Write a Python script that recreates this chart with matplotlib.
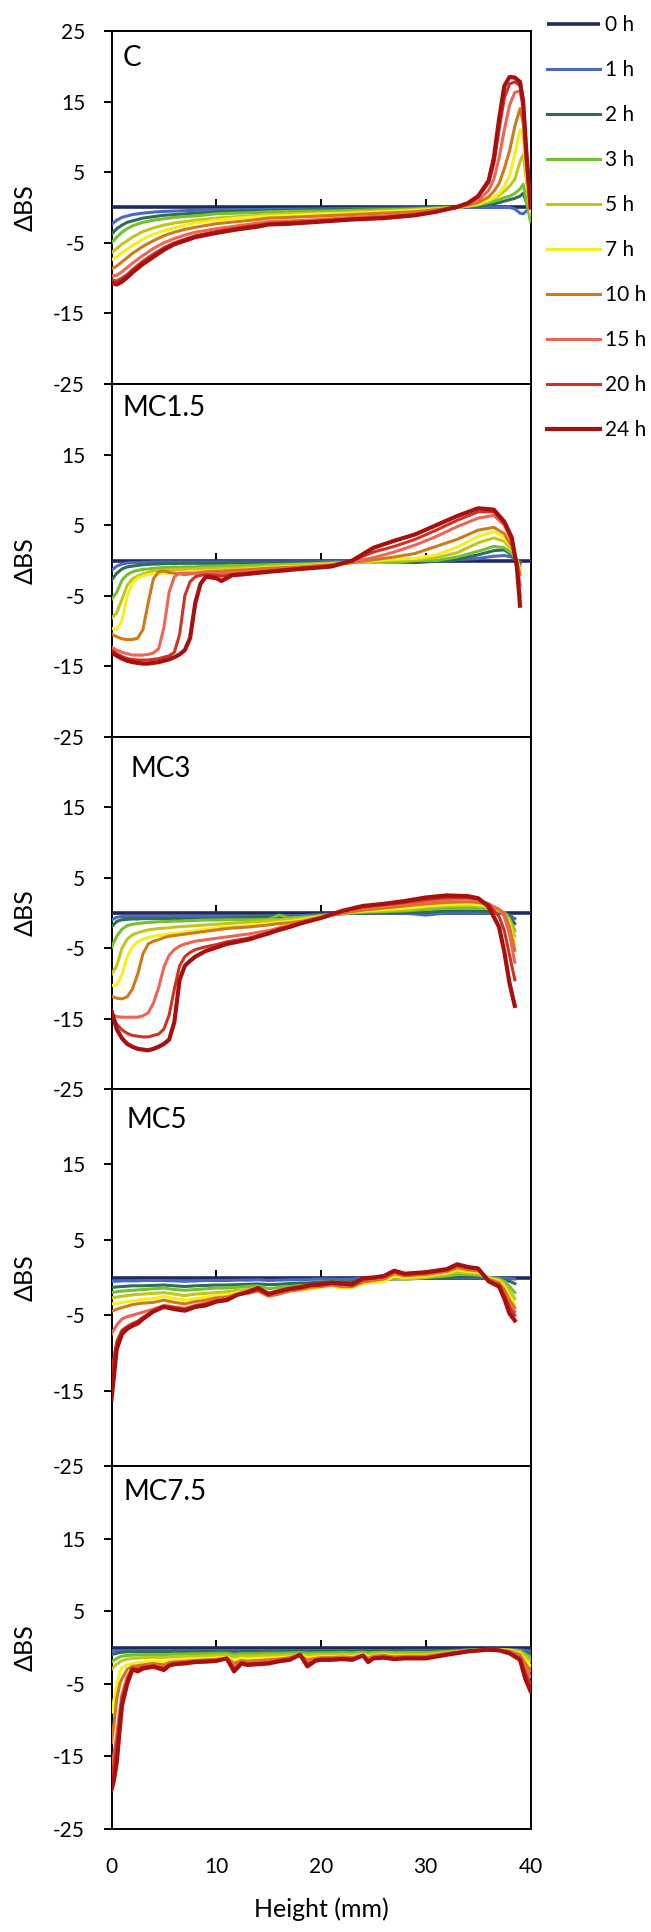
import matplotlib
matplotlib.use('Agg')
import matplotlib.pyplot as plt

plt.rcParams['font.family'] = ['Lato', 'DejaVu Sans']
plt.rcParams['axes.unicode_minus'] = False

# ---- data ----
hours = ['0 h', '1 h', '2 h', '3 h', '5 h', '7 h', '10 h', '15 h', '20 h', '24 h']
colors = ['#1f2a5c', '#4a68c4', '#2e6e55', '#74c02e', '#c4c41c', '#f5ef1e',
          '#cf7a1a', '#ee6455', '#cc3322', '#a81010']
panel_names = ['C', 'MC1.5', 'MC3', 'MC5', 'MC7.5']

zero_x = [0, 40]
zero_y = [0, 0]

# panel C
c_x = [0, 0.5, 1, 1.5, 2, 3, 4, 5, 6, 7, 8, 10, 12, 14, 15, 17, 20, 23, 26, 29, 31,
       33, 34, 35, 36, 36.5, 37, 37.5, 38, 38.5, 39, 39.3, 39.6, 40]
c_1h = [-2.4, -1.8, -1.4, -1.2, -1.0, -0.8, -0.65, -0.55, -0.5, -0.45, -0.4, -0.35, -0.3, -0.3, -0.25, -0.25,
        -0.2, -0.15, -0.1, -0.05, 0.0, 0.0, 0.0, 0.0, 0.0, 0.0, 0.0, 0.0, 0.0, -0.2, -0.8, -0.9, -0.5, 0.0]
c_2h = [-3.8, -3.0, -2.5, -2.1, -1.9, -1.5, -1.3, -1.1, -1.0, -0.9, -0.8, -0.65, -0.55, -0.5, -0.45, -0.4,
        -0.35, -0.3, -0.2, -0.1, 0.0, 0.05, 0.1, 0.2, 0.4, 0.5, 0.7, 0.9, 1.1, 1.3, 1.6, 2.0, 0.8, -1.2]
c_3h = [-5.0, -4.2, -3.5, -3.0, -2.6, -2.1, -1.8, -1.6, -1.4, -1.3, -1.2, -0.9, -0.8, -0.7, -0.6, -0.55,
        -0.5, -0.4, -0.3, -0.2, -0.1, 0.0, 0.15, 0.35, 0.7, 0.9, 1.1, 1.4, 1.6, 2.0, 2.6, 3.3, 1.0, -2.0]
c_5h = [-6.4, -5.8, -5.2, -4.7, -4.2, -3.4, -2.9, -2.5, -2.2, -2.0, -1.8, -1.5, -1.3, -1.1, -1.0, -0.9,
        -0.8, -0.6, -0.5, -0.3, -0.1, 0.0, 0.2, 0.5, 1.0, 1.3, 1.7, 2.3, 3.0, 4.0, 6.5, 7.5, 4.0, -1.0]
c_7h = [-7.4, -7.0, -6.4, -5.9, -5.4, -4.5, -3.8, -3.3, -2.9, -2.5, -2.2, -1.8, -1.5, -1.3, -1.2, -1.1,
        -0.9, -0.8, -0.6, -0.4, -0.2, 0.0, 0.2, 0.5, 1.0, 1.4, 2.0, 3.0, 4.5, 7.5, 11.0, 10.0, 5.0, -0.5]
c_10h = [-8.7, -8.3, -7.7, -7.1, -6.5, -5.5, -4.7, -4.0, -3.5, -3.1, -2.8, -2.3, -2.0, -1.7, -1.5, -1.4,
         -1.2, -1.0, -0.8, -0.6, -0.3, 0.0, 0.3, 0.7, 1.5, 2.3, 3.4, 5.5, 8.0, 11.5, 14.0, 12.0, 6.0, 0.0]
c_15h = [-9.7, -9.6, -9.1, -8.5, -7.9, -6.8, -5.8, -5.0, -4.4, -3.9, -3.5, -3.0, -2.6, -2.2, -2.0, -1.9,
         -1.7, -1.4, -1.2, -0.9, -0.5, 0.0, 0.4, 1.0, 2.4, 4.0, 7.0, 11.0, 14.5, 16.3, 16.5, 14.0, 7.0, 0.2]
c_20h = [-10.3, -10.4, -10.0, -9.5, -8.8, -7.6, -6.6, -5.7, -5.0, -4.5, -4.0, -3.4, -2.9, -2.5, -2.3, -2.1,
         -1.9, -1.6, -1.4, -1.0, -0.6, 0.0, 0.6, 1.5, 3.5, 6.2, 11.0, 15.5, 17.5, 17.8, 17.3, 14.5, 7.5, 0.3]
c_24h = [-10.7, -10.9, -10.5, -9.9, -9.2, -8.0, -7.0, -6.0, -5.2, -4.7, -4.2, -3.6, -3.1, -2.7, -2.4, -2.3,
         -2.0, -1.7, -1.5, -1.1, -0.6, 0.1, 0.6, 1.6, 3.8, 7.0, 12.5, 17.2, 18.5, 18.4, 17.8, 15.0, 8.0, 0.0]

# panel MC1.5
m15_x = [0, 0.5, 1, 1.5, 2, 2.5, 3, 3.5, 4, 4.5, 5, 5.5, 6, 6.5, 7, 7.5, 8, 8.5, 9,
         10, 10.5, 11.5, 13, 15, 18, 21, 23, 25, 27, 29, 31, 33, 35, 36.5, 37.5, 38.2, 38.7, 39]
m15_1h = [-1.4, -0.8, -0.5, -0.35, -0.3, -0.3, -0.25, -0.25, -0.2, -0.2, -0.2, -0.2, -0.2, -0.2, -0.2, -0.2, -0.2, -0.2, -0.2,
          -0.2, -0.2, -0.2, -0.2, -0.2, -0.2, -0.15, -0.1, -0.1, -0.2, -0.2, -0.1, 0.1, 0.3, 0.6, 0.7, 0.5, 0.0, -0.2]
m15_2h = [-2.8, -1.8, -1.2, -0.9, -0.8, -0.7, -0.6, -0.55, -0.5, -0.5, -0.45, -0.45, -0.45, -0.4, -0.4, -0.4, -0.4, -0.4, -0.4,
          -0.4, -0.4, -0.35, -0.35, -0.3, -0.3, -0.3, -0.2, -0.2, -0.2, -0.3, -0.1, 0.2, 0.8, 1.4, 1.5, 0.8, 0.0, -0.5]
m15_3h = [-5.5, -4.5, -2.8, -2.0, -1.6, -1.4, -1.25, -1.2, -1.1, -1.05, -1.0, -1.0, -0.95, -0.95, -0.9, -0.9, -0.9, -0.85, -0.85,
          -0.8, -0.8, -0.75, -0.7, -0.6, -0.5, -0.35, -0.2, -0.1, -0.3, 0.0, 0.0, 0.5, 1.3, 2.0, 1.8, 1.0, 0.0, -0.8]
m15_5h = [-8.2, -7.4, -5.5, -3.5, -2.6, -2.2, -1.9, -1.7, -1.5, -1.4, -1.35, -1.3, -1.3, -1.25, -1.25, -1.2, -1.2, -1.15, -1.15,
          -1.1, -1.1, -1.05, -1.0, -0.8, -0.6, -0.4, -0.3, -0.1, 0.0, 0.1, 0.4, 1.1, 2.5, 3.2, 2.7, 1.5, 0.0, -1.2]
m15_7h = [-9.6, -9.8, -8.5, -5.0, -3.2, -2.5, -2.2, -2.0, -1.9, -1.8, -1.8, -1.75, -1.7, -1.7, -1.65, -1.6, -1.6, -1.55, -1.5,
          -1.4, -1.4, -1.35, -1.2, -1.0, -0.8, -0.5, -0.3, 0.0, 0.2, 0.3, 0.8, 1.9, 3.4, 4.1, 3.3, 1.8, 0.0, -1.5]
m15_10h = [-10.4, -10.8, -11.1, -11.2, -11.2, -11.0, -9.8, -6.0, -2.6, -1.6, -1.5, -1.7, -1.8, -1.9, -2.0, -1.9, -1.8, -1.7, -1.6,
           -1.5, -1.5, -1.4, -1.3, -1.1, -0.9, -0.6, -0.3, 0.1, 0.5, 1.0, 2.0, 3.0, 4.3, 4.7, 3.8, 2.0, -0.2, -2.0]
m15_15h = [-12.3, -12.7, -13.0, -13.2, -13.4, -13.4, -13.4, -13.3, -13.1, -12.5, -9.5, -4.5, -2.3, -1.8, -1.8, -1.8, -1.8, -1.8, -1.8,
           -1.8, -1.8, -1.7, -1.6, -1.4, -1.0, -0.7, -0.2, 0.4, 1.2, 2.2, 3.4, 4.8, 6.0, 6.4, 5.0, 2.8, -0.3, -3.5]
m15_20h = [-12.7, -13.2, -13.6, -13.9, -14.0, -14.1, -14.1, -14.1, -14.0, -13.9, -13.7, -13.5, -13.0, -10.5, -5.0, -3.0, -2.3, -2.1, -2.0,
           -2.1, -2.2, -2.0, -1.8, -1.5, -1.1, -0.7, 0.0, 1.2, 2.0, 3.0, 4.3, 5.7, 6.9, 6.9, 5.3, 3.0, -0.5, -5.0]
m15_24h = [-13.0, -13.5, -13.9, -14.2, -14.4, -14.5, -14.6, -14.6, -14.5, -14.4, -14.2, -14.0, -13.7, -13.3, -12.7, -11.0, -6.0, -3.3, -2.3,
           -2.5, -2.9, -2.1, -1.9, -1.6, -1.2, -0.85, 0.0, 1.8, 2.8, 3.7, 5.0, 6.3, 7.4, 7.2, 5.5, 3.3, -0.9, -6.4]

# panel MC3
m3_x = [0, 0.5, 1, 1.5, 2, 2.5, 3, 3.5, 4, 4.5, 5, 5.5, 6, 6.5, 7, 7.5, 8, 9, 10, 11, 13, 15,
        16, 17, 18, 20, 22, 24, 26, 28, 30, 32, 34, 35, 36, 37, 37.5, 38, 38.5]
m3_1h = [-1.0, -0.6, -0.5, -0.5, -0.5, -0.5, -0.5, -0.5, -0.5, -0.5, -0.5, -0.5, -0.5, -0.5, -0.5, -0.5, -0.5,
         -0.5, -0.5, -0.5, -0.5, -0.5, -0.45, -0.45, -0.4, -0.2, -0.1, 0.0, 0.0, 0.0, -0.3, 0.0,
         0.0, 0.0, 0.0, 0.0, 0.0, -0.3, -0.8]
m3_2h = [-2.0, -1.2, -0.95, -0.9, -0.85, -0.85, -0.8, -0.8, -0.8, -0.8, -0.8, -0.8, -0.8, -0.8, -0.8, -0.8, -0.8,
         -0.8, -0.8, -0.75, -0.7, -0.6, -0.6, -0.6, -0.6, -0.3, -0.1, 0.0, 0.1, 0.1, 0.1, 0.3,
         0.3, 0.3, 0.2, 0.1, 0.0, -0.5, -1.5]
m3_3h = [-4.9, -3.3, -2.3, -1.8, -1.6, -1.5, -1.4, -1.35, -1.3, -1.25, -1.2, -1.2, -1.15, -1.15, -1.1, -1.1, -1.05,
         -1.0, -1.0, -0.95, -0.95, -0.9, -0.3, -0.7, -0.6, -0.4, -0.1, 0.1, 0.2, 0.3, 0.5, 0.7,
         0.7, 0.7, 0.6, 0.2, 0.0, -0.8, -2.5]
m3_5h = [-8.7, -7.5, -5.0, -3.7, -3.1, -2.8, -2.6, -2.4, -2.3, -2.2, -2.15, -2.1, -2.0, -1.95, -1.9, -1.85, -1.8,
         -1.7, -1.6, -1.5, -1.3, -1.1, -1.0, -0.9, -0.8, -0.4, 0.0, 0.2, 0.3, 0.5, 0.8, 1.0,
         1.1, 1.0, 0.8, 0.3, 0.0, -1.0, -3.3]
m3_7h = [-10.3, -10.2, -8.8, -6.2, -4.8, -4.1, -3.7, -3.5, -3.3, -3.2, -3.1, -3.0, -2.9, -2.8, -2.7, -2.6, -2.5,
         -2.3, -2.1, -2.0, -1.8, -1.5, -1.3, -1.2, -1.0, -0.5, 0.0, 0.3, 0.5, 0.7, 1.0, 1.2,
         1.3, 1.2, 1.0, 0.4, 0.0, -1.5, -4.5]
m3_10h = [-11.8, -12.1, -12.2, -11.9, -10.8, -8.7, -5.8, -4.4, -4.0, -3.8, -3.5, -3.3, -3.2, -3.1, -3.0, -2.9, -2.8,
          -2.6, -2.4, -2.2, -2.0, -1.7, -1.5, -1.4, -1.2, -0.6, 0.0, 0.4, 0.7, 1.0, 1.3, 1.5,
          1.6, 1.5, 1.2, 0.5, 0.0, -2.0, -5.3]
m3_15h = [-14.4, -14.7, -14.8, -14.8, -14.8, -14.8, -14.6, -14.2, -12.8, -10.6, -7.7, -6.0, -5.2, -4.7, -4.4, -4.2, -4.0,
          -3.8, -3.6, -3.4, -3.0, -2.5, -2.1, -1.8, -1.4, -0.7, 0.0, 0.7, 1.0, 1.3, 1.6, 1.9,
          2.0, 1.8, 1.3, 0.5, -0.5, -3.0, -7.0]
m3_20h = [-14.4, -15.8, -16.6, -17.1, -17.4, -17.5, -17.6, -17.6, -17.4, -17.2, -16.5, -14.5, -10.8, -7.5, -6.2, -5.6, -5.2,
          -4.8, -4.5, -4.1, -3.6, -2.8, -2.3, -1.9, -1.5, -0.7, 0.2, 0.9, 1.2, 1.5, 1.9, 2.2,
          2.2, 2.0, 1.2, -0.5, -2.5, -6.0, -9.5]
m3_24h = [-13.9, -16.5, -17.8, -18.6, -19.0, -19.3, -19.4, -19.5, -19.3, -19.0, -18.6, -18.0, -15.5, -9.5, -7.5, -6.8, -6.2,
          -5.4, -4.9, -4.4, -3.8, -2.9, -2.4, -2.0, -1.5, -0.7, 0.3, 1.0, 1.3, 1.7, 2.2, 2.5,
          2.4, 2.1, 0.9, -2.0, -5.5, -10.0, -13.2]

# panel MC5
m5_x = [0, 0.2, 0.5, 1, 1.5, 2, 2.5, 3, 4, 5, 6, 7, 8, 9, 10, 11, 12, 13, 14, 15,
        16, 17, 18, 19, 20, 21, 22, 23, 24, 25, 26, 27, 28, 29, 30, 31, 32, 33, 34, 35,
        36, 37, 37.5, 38, 38.5]
m5_1h = [-0.5, -0.5, -0.5, -0.45, -0.45, -0.45, -0.45, -0.4, -0.4, -0.4,
         -0.45, -0.5, -0.45, -0.4, -0.4, -0.4, -0.35, -0.35, -0.3, -0.4,
         -0.35, -0.3, -0.3, -0.25, -0.2, -0.2, -0.25, -0.2, -0.1, -0.1,
         -0.05, 0.0, 0.0, 0.0, 0.0, 0.0, 0.0, 0.0, 0.0, 0.0, 0.0, -0.05, -0.1, -0.15, -0.2]
m5_2h = [-1.3, -1.3, -1.25, -1.2, -1.15, -1.1, -1.1, -1.1, -1.05, -1.0,
         -1.1, -1.2, -1.1, -1.05, -1.0, -1.0, -0.95, -0.9, -0.85, -0.95,
         -0.9, -0.8, -0.75, -0.7, -0.6, -0.55, -0.6, -0.55, -0.4, -0.35,
         -0.3, -0.2, -0.2, -0.15, -0.1, 0.0, 0.0, 0.1, 0.1, 0.1, 0.0, -0.2, -0.3, -0.5, -0.8]
m5_3h = [-2.0, -1.95, -1.9, -1.8, -1.75, -1.7, -1.65, -1.6, -1.5, -1.4,
         -1.6, -1.7, -1.6, -1.5, -1.4, -1.4, -1.3, -1.2, -1.1, -1.5,
         -1.3, -1.2, -1.1, -1.0, -0.9, -0.8, -1.0, -0.9, -0.6, -0.5,
         -0.4, -0.1, -0.2, -0.1, 0.0, 0.1, 0.2, 0.4, 0.4, 0.3, 0.0, -0.2, -0.5, -1.2, -2.0]
m5_5h = [-2.7, -2.65, -2.6, -2.5, -2.4, -2.3, -2.25, -2.2, -2.1, -2.0,
         -2.2, -2.4, -2.2, -2.1, -2.0, -1.9, -1.7, -1.6, -1.5, -2.0,
         -1.8, -1.6, -1.5, -1.3, -1.2, -1.0, -1.2, -1.1, -0.8, -0.6,
         -0.5, 0.0, -0.2, -0.1, 0.0, 0.2, 0.4, 0.7, 0.6, 0.5, 0.0, -0.3, -0.8, -1.8, -2.8]
m5_7h = [-3.5, -3.45, -3.4, -3.3, -3.2, -3.1, -3.0, -2.9, -2.8, -2.5,
         -2.8, -3.0, -2.8, -2.6, -2.4, -2.3, -2.0, -1.9, -1.7, -2.3,
         -2.1, -1.8, -1.7, -1.5, -1.3, -1.1, -1.4, -1.3, -0.8, -0.6,
         -0.5, 0.2, 0.0, 0.1, 0.2, 0.4, 0.6, 1.0, 0.8, 0.7, -0.1, -0.5, -1.2, -2.5, -3.5]
m5_10h = [-4.5, -4.4, -4.2, -4.0, -3.8, -3.6, -3.5, -3.4, -3.3, -3.0,
          -3.3, -3.5, -3.2, -3.0, -2.7, -2.6, -2.2, -2.1, -1.8, -2.5,
          -2.2, -1.8, -1.6, -1.3, -1.2, -1.0, -1.2, -1.2, -0.6, -0.4,
          -0.2, 0.5, 0.2, 0.3, 0.4, 0.6, 0.8, 1.3, 1.0, 0.9, -0.2, -0.7, -1.6, -3.0, -4.0]
m5_15h = [-7.5, -7.0, -6.3, -5.5, -5.2, -5.0, -4.8, -4.6, -4.2, -3.7,
          -3.9, -4.1, -3.7, -3.4, -3.0, -2.8, -2.3, -2.1, -1.7, -2.4,
          -2.0, -1.7, -1.5, -1.2, -1.1, -0.9, -1.0, -1.1, -0.4, -0.2,
          0.0, 0.7, 0.3, 0.4, 0.5, 0.7, 0.9, 1.5, 1.2, 1.0, -0.3, -0.9, -2.0, -3.5, -4.5]
m5_20h = [-13.0, -11.0, -8.5, -7.0, -6.5, -6.1, -5.8, -5.3, -4.4, -3.8,
          -4.0, -4.2, -3.8, -3.5, -3.1, -2.9, -2.3, -2.0, -1.6, -2.3,
          -1.9, -1.6, -1.4, -1.1, -1.0, -0.8, -0.9, -1.0, -0.3, -0.1,
          0.1, 0.8, 0.4, 0.5, 0.6, 0.8, 1.0, 1.6, 1.3, 1.1, -0.4, -1.0, -2.3, -4.0, -5.0]
m5_24h = [-16.2, -13.5, -9.5, -7.5, -6.8, -6.4, -6.1, -5.5, -4.5, -3.9,
          -4.2, -4.4, -3.9, -3.7, -3.2, -3.0, -2.3, -1.9, -1.4, -2.2,
          -1.8, -1.5, -1.3, -1.0, -0.9, -0.7, -0.8, -0.9, -0.1, 0.0,
          0.2, 0.9, 0.5, 0.6, 0.7, 0.9, 1.1, 1.75, 1.4, 1.2, -0.5, -1.2, -2.8, -4.8, -5.7]

# panel MC7.5
m75_x = [0, 0.2, 0.5, 0.8, 1, 1.5, 2, 2.5, 3, 4, 5, 5.5, 6, 7, 8, 9, 10, 11, 11.7, 12.4,
         13, 14, 15, 16, 17, 18, 18.7, 19.5, 20, 21, 22, 23, 24, 24.5, 25, 26, 27, 28, 30, 32,
         34, 36, 37, 38, 39, 39.5, 40]
m75_1h = [-0.5, -0.45, -0.45, -0.45, -0.45, -0.45, -0.45, -0.45, -0.45, -0.45,
          -0.45, -0.45, -0.45, -0.45, -0.45, -0.45, -0.45, -0.45, -0.45, -0.45,
          -0.45, -0.45, -0.45, -0.45, -0.45, -0.45, -0.45, -0.45, -0.45, -0.45,
          -0.45, -0.45, -0.45, -0.45, -0.45, -0.45, -0.45, -0.4, -0.4, -0.4,
          -0.35, -0.3, -0.3, -0.3, -0.35, -0.4, -0.5]
m75_2h = [-1.0, -0.9, -0.8, -0.7, -0.65, -0.6, -0.6, -0.6, -0.6, -0.6,
          -0.6, -0.6, -0.6, -0.6, -0.6, -0.6, -0.6, -0.6, -0.65, -0.6,
          -0.6, -0.6, -0.6, -0.6, -0.55, -0.55, -0.6, -0.55, -0.55, -0.55,
          -0.55, -0.55, -0.5, -0.55, -0.5, -0.5, -0.5, -0.5, -0.5, -0.45,
          -0.4, -0.35, -0.35, -0.4, -0.5, -0.7, -0.9]
m75_3h = [-2.0, -1.8, -1.5, -1.3, -1.2, -1.1, -1.05, -1.0, -1.0, -0.95,
          -1.0, -0.95, -0.9, -0.9, -0.85, -0.85, -0.8, -0.8, -0.95, -0.85,
          -0.85, -0.85, -0.8, -0.8, -0.75, -0.7, -0.8, -0.75, -0.75, -0.75,
          -0.7, -0.75, -0.65, -0.75, -0.7, -0.65, -0.7, -0.7, -0.7, -0.55,
          -0.35, -0.25, -0.25, -0.3, -0.45, -0.9, -1.3]
m75_5h = [-3.0, -2.7, -2.3, -2.0, -1.8, -1.6, -1.5, -1.45, -1.4, -1.35,
          -1.4, -1.3, -1.25, -1.2, -1.2, -1.15, -1.1, -1.05, -1.3, -1.15,
          -1.2, -1.15, -1.1, -1.1, -1.0, -0.95, -1.1, -1.0, -1.0, -1.0,
          -0.95, -1.0, -0.85, -1.0, -0.9, -0.85, -0.9, -0.9, -0.9, -0.7,
          -0.45, -0.3, -0.3, -0.35, -0.6, -1.2, -1.8]
m75_7h = [-8.9, -7.5, -5.2, -3.3, -2.8, -2.4, -2.2, -2.1, -2.0, -1.9,
          -2.0, -1.8, -1.7, -1.6, -1.55, -1.5, -1.45, -1.35, -1.8, -1.5,
          -1.6, -1.5, -1.45, -1.4, -1.3, -1.1, -1.4, -1.3, -1.25, -1.25,
          -1.2, -1.25, -1.0, -1.3, -1.1, -1.0, -1.15, -1.1, -1.1, -0.8,
          -0.5, -0.3, -0.3, -0.4, -0.8, -1.7, -2.5]
m75_10h = [-13.1, -11.0, -7.1, -5.0, -4.3, -3.0, -2.6, -2.5, -2.4, -2.2,
           -2.4, -2.1, -2.0, -1.9, -1.8, -1.7, -1.65, -1.5, -2.2, -1.8,
           -1.9, -1.8, -1.7, -1.6, -1.4, -1.1, -1.7, -1.5, -1.4, -1.4,
           -1.3, -1.4, -1.1, -1.5, -1.2, -1.1, -1.3, -1.2, -1.2, -0.8,
           -0.5, -0.3, -0.35, -0.5, -1.0, -2.2, -3.2]
m75_15h = [-17.0, -15.0, -12.0, -8.5, -6.5, -4.0, -2.8, -2.8, -2.6, -2.4,
           -2.7, -2.3, -2.1, -2.0, -1.85, -1.8, -1.75, -1.5, -2.6, -2.0,
           -2.1, -2.0, -1.9, -1.7, -1.5, -1.1, -2.0, -1.6, -1.5, -1.5,
           -1.4, -1.5, -1.1, -1.7, -1.3, -1.2, -1.4, -1.3, -1.3, -0.9,
           -0.5, -0.3, -0.4, -0.6, -1.2, -2.8, -4.0]
m75_20h = [-18.0, -16.5, -13.5, -9.5, -7.0, -4.5, -2.9, -3.0, -2.7, -2.5,
           -2.9, -2.4, -2.2, -2.1, -1.9, -1.85, -1.8, -1.5, -3.0, -2.1,
           -2.3, -2.2, -2.1, -1.8, -1.6, -1.0, -2.4, -1.7, -1.6, -1.6,
           -1.5, -1.6, -1.1, -1.9, -1.4, -1.3, -1.5, -1.4, -1.4, -0.9,
           -0.5, -0.3, -0.4, -0.7, -1.5, -3.5, -5.0]
m75_24h = [-19.6, -18.5, -15.9, -11.0, -8.0, -5.0, -3.0, -3.3, -2.9, -2.65,
           -3.1, -2.5, -2.3, -2.2, -2.0, -1.95, -1.85, -1.5, -3.3, -2.2,
           -2.4, -2.3, -2.2, -1.9, -1.7, -1.0, -2.6, -1.8, -1.7, -1.7,
           -1.6, -1.7, -1.1, -2.0, -1.5, -1.4, -1.6, -1.5, -1.5, -1.0,
           -0.55, -0.3, -0.4, -0.8, -1.7, -4.3, -6.0]

panel_x = [c_x, m15_x, m3_x, m5_x, m75_x]
panel_curves = [
    [c_1h, c_2h, c_3h, c_5h, c_7h, c_10h, c_15h, c_20h, c_24h],
    [m15_1h, m15_2h, m15_3h, m15_5h, m15_7h, m15_10h, m15_15h, m15_20h, m15_24h],
    [m3_1h, m3_2h, m3_3h, m3_5h, m3_7h, m3_10h, m3_15h, m3_20h, m3_24h],
    [m5_1h, m5_2h, m5_3h, m5_5h, m5_7h, m5_10h, m5_15h, m5_20h, m5_24h],
    [m75_1h, m75_2h, m75_3h, m75_5h, m75_7h, m75_10h, m75_15h, m75_20h, m75_24h],
]

# ---- layout (pixels of the 651 x 1932 canvas) ----
W, H = 651, 1932
left_px, right_px = 111.5, 530.5
panel_px = [(31, 384), (384, 737), (737, 1089), (1089, 1466), (1466, 1829)]
label_off = [(11, -27), (11, -24), (19, -32), (15, -31), (12, -26)]  # px from top-left corner

fig = plt.figure(figsize=(W / 100, H / 100), dpi=100)
lw_frame = 1.4
first_lines = []

for i, (top, bot) in enumerate(panel_px):
    ax = fig.add_axes([left_px / W, 1 - bot / H, (right_px - left_px) / W, (bot - top) / H])
    ax.set_xlim(0, 40)
    ax.set_ylim(-25, 25)

    l0, = ax.plot(zero_x, zero_y, color=colors[0], lw=2.6, zorder=3, solid_capstyle='butt')
    lines = [l0]
    for k, ys in enumerate(panel_curves[i]):
        lw = 3.0 if k == 8 else 2.2
        ln, = ax.plot(panel_x[i], ys, color=colors[k + 1], lw=lw, zorder=3,
                      solid_joinstyle='round')
        lines.append(ln)
    if i == 0:
        first_lines = lines

    for s in ax.spines.values():
        s.set_linewidth(lw_frame)
        s.set_color('black')
    # horizontal axis crosses at 0 with ticks pointing up
    ax.spines['bottom'].set_position(('data', 0))
    ax.set_xticks([10, 20, 30])
    ax.tick_params(axis='x', direction='in', length=6, width=lw_frame, labelbottom=False)

    ax.set_yticks([-25, -15, -5, 5, 15, 25])
    ylabs = ['-25', '-15', '-5', '5', '15', '25'] if i == 0 else ['-25', '-15', '-5', '5', '15', '']
    ax.set_yticklabels(ylabs)
    ax.tick_params(axis='y', direction='out', length=6, width=lw_frame, pad=13, labelsize=15)
    ax.set_ylabel('ΔBS', fontsize=18)
    ax.yaxis.set_label_coords((37 - left_px) / (right_px - left_px), 0.5)

    # bottom frame + value labels
    sec = ax.secondary_xaxis('bottom')
    sec.set_xticks([0, 10, 20, 30, 40])
    sec.spines['bottom'].set_linewidth(lw_frame)
    if i == len(panel_px) - 1:
        sec.tick_params(length=0, pad=20, labelsize=15)
        sec.set_xlabel('Height (mm)', fontsize=18, labelpad=15)
    else:
        sec.tick_params(length=0, labelbottom=False)

    dx, dy = label_off[i]
    ax.annotate(panel_names[i], xy=(0, 1), xycoords='axes fraction',
                xytext=(dx * 0.72, dy * 0.72), textcoords='offset points',
                ha='left', va='center', fontsize=20)

fig.legend(first_lines, hours, loc='upper left', bbox_to_anchor=(547 / W, 1 - 15 / H),
           frameon=False, fontsize=15, handlelength=2.55, handletextpad=0.25,
           labelspacing=1.2, borderpad=0, borderaxespad=0)

fig.savefig('out.png', dpi=100)
